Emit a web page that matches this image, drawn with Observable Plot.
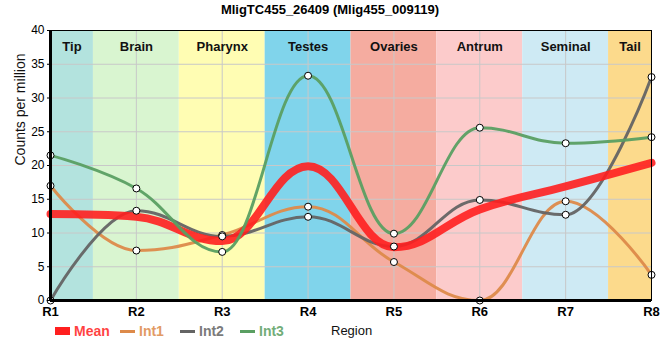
<!DOCTYPE html>
<html><head><meta charset="utf-8">
<script src="https://cdn.jsdelivr.net/npm/d3@7"></script>
<script src="https://cdn.jsdelivr.net/npm/@observablehq/plot@0.6"></script>
<style>
body{margin:0;background:#fff;font-family:"Liberation Sans",Arial,sans-serif;}
#title{height:20px;line-height:20px;text-align:center;font-weight:bold;font-size:13px;color:#000;}
#chart{height:300px;}
#legend{position:relative;height:22px;font-size:13px;}
#legend span{position:absolute;top:3px;line-height:16px;}
#legend .sw{position:absolute;}
</style></head><body>
<div id="title">MligTC455_26409 (Mlig455_009119)</div>
<div id="chart"></div>
<div id="legend"></div>
<script>
const regions = ["R1","R2","R3","R4","R5","R6","R7","R8"];
const tissues = ["Tip","Brain","Pharynx","Testes","Ovaries","Antrum","Seminal","Tail"];
const tissueColors = ["#b3e3de","#d9f5d0","#fffdb3","#80d4eb","#f5aca0","#fccbcb","#ceeaf4","#fcda8c"];
const int1 = [17.0, 7.4, 9.7, 13.9, 5.7, 0.0, 14.7, 3.8];
const int2 = [0.0, 13.3, 9.5, 12.4, 8.0, 14.9, 12.7, 33.1];
const int3 = [21.5, 16.6, 7.2, 33.3, 9.9, 25.6, 23.3, 24.2];
const meanVals = [12.8, 12.4, 8.8, 19.9, 7.9, 13.5, 16.9, 20.4];
const yTicks = [0,5,10,15,20,25,30,35,40];
const seriesNames = ["Mean","Int1","Int2","Int3"];
const seriesColors = {Mean:"#ff1f1f", Int1:"#dd8a4a", Int2:"#646464", Int3:"#5a9f62"};

// Spline curve (control points at 0.4 of each interval, flattened at local extrema)
function SplineCurve(context){ this._context = context; }
SplineCurve.prototype = {
  areaStart(){}, areaEnd(){},
  lineStart(){ this._pts = []; },
  point(x,y){ this._pts.push([+x,+y]); },
  lineEnd(){
    const p = this._pts, c = this._context;
    if (!p.length) return;
    c.moveTo(p[0][0], p[0][1]);
    const sm = 1.5, den = sm + 1;
    let prevRight = null;
    for (let i = 1; i < p.length; i++) {
      const [x,y] = p[i], last = p[i-1], next = p[i+1];
      let lc = null, rc = null;
      if (next) {
        let lx = (sm*x + last[0])/den, ly = (sm*y + last[1])/den;
        let rx = (sm*x + next[0])/den, ry = (sm*y + next[1])/den;
        let corr = 0;
        if (rx !== lx) corr = ((ry - ly)*(rx - x))/(rx - lx) + y - ry;
        ly += corr; ry += corr;
        if (ly > last[1] && ly > y) { ly = Math.max(last[1], y); ry = 2*y - ly; }
        else if (ly < last[1] && ly < y) { ly = Math.min(last[1], y); ry = 2*y - ly; }
        if (ry > next[1] && ry > y) { ry = Math.max(next[1], y); ly = 2*y - ry; }
        else if (ry < next[1] && ry < y) { ry = Math.min(next[1], y); ly = 2*y - ry; }
        lc = [lx, ly]; rc = [rx, ry];
      }
      const c1 = prevRight || last, c2 = lc || [x,y];
      c.bezierCurveTo(c1[0], c1[1], c2[0], c2[1], x, y);
      prevRight = rc;
    }
  }
};
const spline = ctx => new SplineCurve(ctx);

const pos = regions.map((r,i)=>i+1);
const n = regions.length;
const bands = tissues.map((t,i)=>({t, x1:Math.max(1,i+0.5), x2:Math.min(n,i+1.5), c:tissueColors[i]}));
const mk = (vals,name)=>vals.map((v,i)=>({x:pos[i], y:v, s:name}));
const s1 = mk(int1,"Int1"), s2 = mk(int2,"Int2"), s3 = mk(int3,"Int3"), sm = mk(meanVals,"Mean");
const allInt = [...s1,...s2,...s3];

const chart = Plot.plot({
  width:660, height:300,
  marginTop:10, marginBottom:20, marginLeft:50, marginRight:9,
  style:{fontFamily:"'Liberation Sans', Arial, sans-serif", background:"transparent"},
  x:{domain:[1,n], axis:null},
  y:{domain:[0,40], axis:null},
  marks:[
    Plot.rect(bands,{x1:"x1",x2:"x2",y1:0,y2:40,fill:d=>d.c}),
    Plot.gridX(pos,{stroke:"#c8c8c8",strokeOpacity:1,strokeWidth:1}),
    Plot.gridY(yTicks,{stroke:"#c8c8c8",strokeOpacity:1,strokeWidth:1}),
    Plot.text(bands,{x:d=>(d.x1+d.x2)/2, text:"t", frameAnchor:"top", dy:11, fontSize:13, fontWeight:"bold", fill:"#111"}),
    Plot.line(s1,{x:"x",y:"y",stroke:seriesColors.Int1,strokeWidth:3,curve:spline,strokeOpacity:0.95}),
    Plot.line(s2,{x:"x",y:"y",stroke:seriesColors.Int2,strokeWidth:3,curve:spline,strokeOpacity:0.95}),
    Plot.line(sm,{x:"x",y:"y",stroke:seriesColors.Mean,strokeWidth:8,curve:spline,strokeOpacity:0.9}),
    Plot.line(s3,{x:"x",y:"y",stroke:seriesColors.Int3,strokeWidth:3,curve:spline,strokeOpacity:0.95}),
    Plot.dot(allInt,{x:"x",y:"y",r:3.5,fill:"white",stroke:"black",strokeWidth:1}),
    Plot.frame({stroke:"black",strokeWidth:1}),
    Plot.ruleX([1],{stroke:"black",strokeWidth:3}),
    Plot.ruleY([0],{stroke:"black",strokeWidth:3}),
    Plot.axisY(yTicks,{tickSize:3,tickPadding:3,fontSize:12,label:null}),
    Plot.axisX(pos,{tickSize:0,tickPadding:6,fontSize:13,fontWeight:"bold",tickFormat:d=>regions[d-1],label:null}),
    Plot.text(["Counts per million"],{frameAnchor:"left",dx:-30,rotate:-90,fontSize:14,fill:"#111"})
  ]
});
document.getElementById("chart").appendChild(chart);

const leg = document.getElementById("legend");
const legX = {Mean:55, Int1:120, Int2:180, Int3:240};
for (const s of seriesNames) {
  const sw = document.createElement("div");
  sw.className = "sw";
  sw.style.left = legX[s]+"px";
  sw.style.width = "15px";
  if (s==="Mean"){ sw.style.top="7px"; sw.style.height="8px"; }
  else { sw.style.top="10px"; sw.style.height="3px"; }
  sw.style.background = seriesColors[s];
  leg.appendChild(sw);
  const t = document.createElement("span");
  t.textContent = s;
  t.style.left = (legX[s]+19)+"px";
  t.style.color = seriesColors[s];
  t.style.fontWeight = "bold";
  t.style.fontSize = "14px";
  t.style.opacity = "0.85";
  leg.appendChild(t);
}
const rl = document.createElement("span");
rl.textContent = "Region";
rl.style.left = "331px";
rl.style.color = "#111";
leg.appendChild(rl);
</script>
</body></html>
